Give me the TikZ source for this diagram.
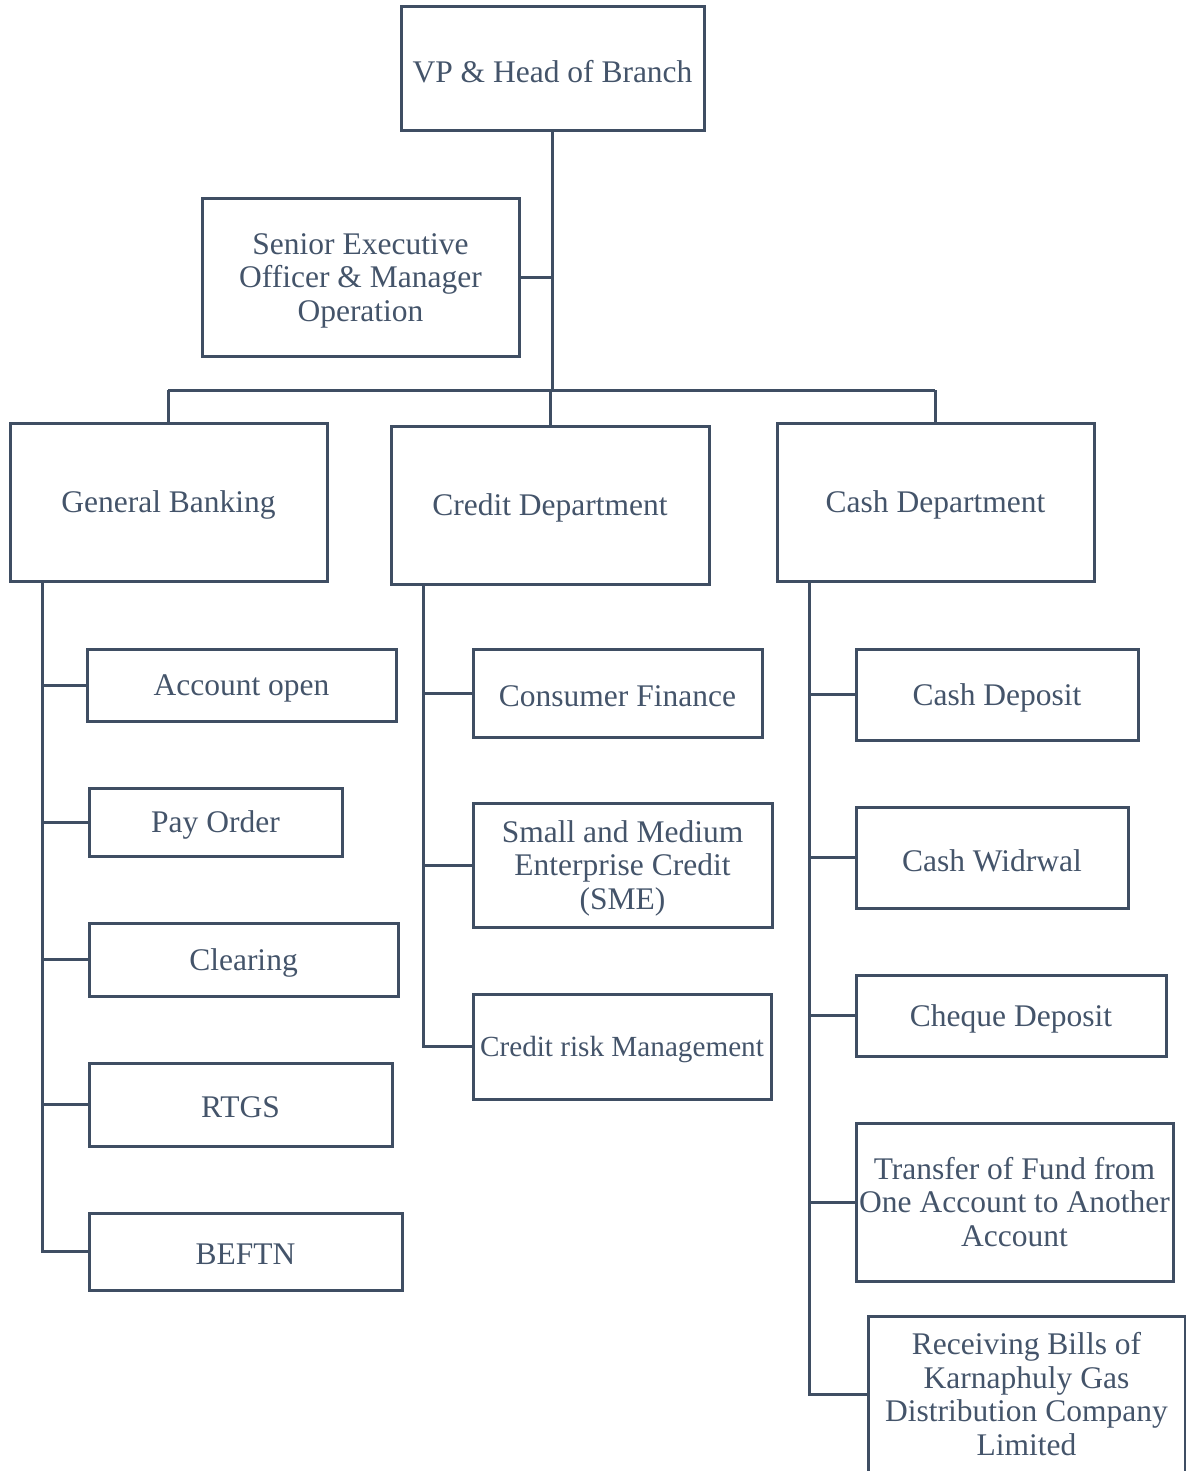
\documentclass[tikz,border=0pt]{standalone}
\usepackage{fontspec}
\setmainfont{Liberation Serif}
\definecolor{linec}{HTML}{3F4E63}
\definecolor{textc}{HTML}{44546A}
\begin{document}
\begin{tikzpicture}[x=0.5pt,y=-0.5pt,
  box/.style={draw=linec,line width=1.5pt,inner sep=0pt,outer sep=0pt},
  txt/.style={inner sep=0pt,text=textc,align=center,font=\fontsize{15.75pt}{16.75pt}\selectfont},
  conn/.style={draw=linec,line width=1.5pt}]
\useasboundingbox (0,0) rectangle (1186,1471);
\newcommand\bx[7][-1.5pt]{\node[box,minimum width={(#5-#3)*0.5pt},minimum height={(#6-#4)*0.5pt}] (#2) at ({(#3+#5)/2},{(#4+#6)/2}) {};
  \node[txt,yshift=#1] (#2t) at (#2.center) {#7};}
\bx{vp}{401}{7}{704}{131}{VP \& Head of Branch}
\bx{sen}{202}{199}{519}{356}{Senior Executive\\Officer \& Manager\\Operation}
\bx{gb}{10}{423}{327}{581}{General Banking}
\bx{cd}{391}{426}{709}{584}{Credit Department}
\bx{cash}{777}{423}{1094}{581}{Cash Department}
\bx{ao}{87}{649}{396}{721}{Account open}
\bx{po}{89}{788}{342}{856}{Pay Order}
\bx{cl}{89}{923}{398}{996}{Clearing}
\bx{rt}{89}{1063}{392}{1146}{RTGS}
\bx{bf}{89}{1213}{402}{1290}{BEFTN}
\bx{cf}{473}{649}{762}{737}{Consumer Finance}
\bx{sme}{473}{803}{772}{927}{Small and Medium\\Enterprise Credit\\(SME)}
\bx{crm}{473}{994}{771}{1099}{{\fontsize{14.6pt}{16pt}\selectfont Credit risk Management}}
\bx{cdep}{856}{649}{1138}{740}{Cash Deposit}
\bx{cw}{856}{807}{1128}{908}{Cash Widrwal}
\bx{chq}{856}{975}{1166}{1056}{Cheque Deposit}
\bx[0pt]{tr}{856}{1123}{1173}{1281}{Transfer of Fund from\\One Account to Another\\Account}
\bx[0pt]{rec}{868}{1316}{1185}{1472}{Receiving Bills of\\Karnaphuly Gas\\Distribution Company\\Limited}
\coordinate (bus) at (552,390);
\coordinate (busL) at (168,390);
\coordinate (busR) at (935,390);
\coordinate (gbsp) at (42,581);
\coordinate (crsp) at (423,584);
\coordinate (cssp) at (809,581);
\draw[conn] (vp.south -| bus) -- (bus);
\draw[conn] (sen.east) -- (sen.east -| bus);
\draw[conn] (busL) -- (busR);
\draw[conn] (busL) -- (busL |- gb.north);
\draw[conn] (cd.north) -- (cd.north |- bus);
\draw[conn] (busR) -- (busR |- cash.north);
\draw[conn] (gbsp) |- (bf.west);
\draw[conn] (ao.west) -- (ao.west -| gbsp);
\draw[conn] (po.west) -- (po.west -| gbsp);
\draw[conn] (cl.west) -- (cl.west -| gbsp);
\draw[conn] (rt.west) -- (rt.west -| gbsp);
\draw[conn] (crsp) |- (crm.west);
\draw[conn] (cf.west) -- (cf.west -| crsp);
\draw[conn] (sme.west) -- (sme.west -| crsp);
\draw[conn] (cssp) |- (rec.west);
\draw[conn] (cdep.west) -- (cdep.west -| cssp);
\draw[conn] (cw.west) -- (cw.west -| cssp);
\draw[conn] (chq.west) -- (chq.west -| cssp);
\draw[conn] (tr.west) -- (tr.west -| cssp);
\end{tikzpicture}
\end{document}
